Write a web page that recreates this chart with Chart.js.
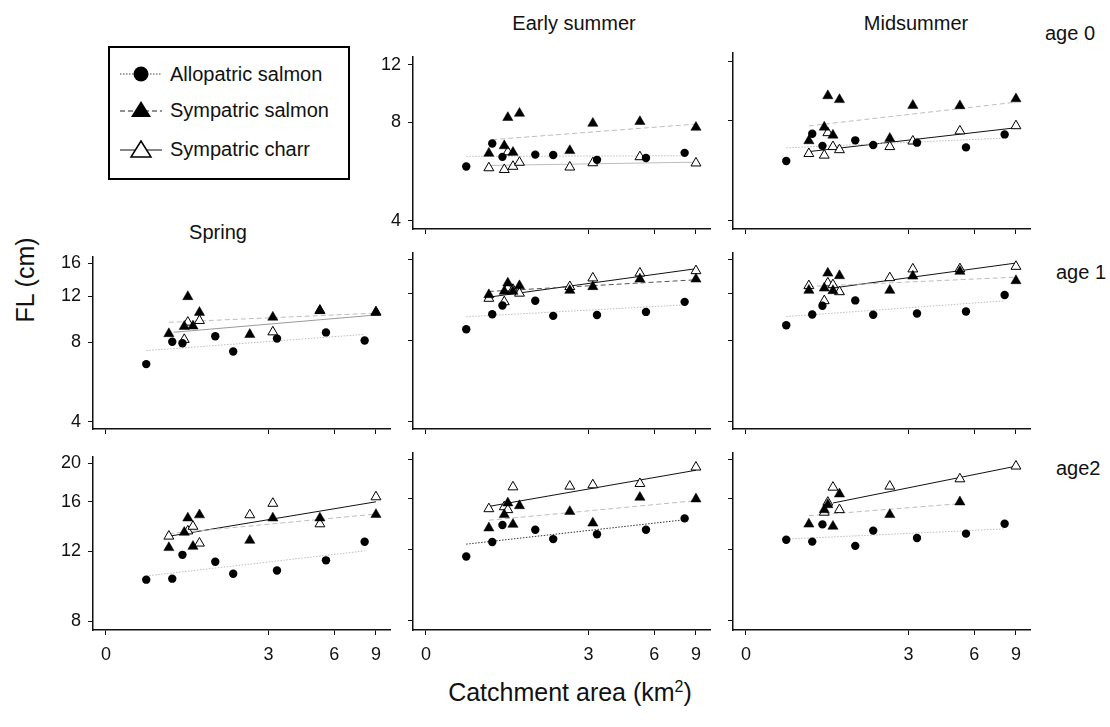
<!DOCTYPE html>
<html>
<head>
<meta charset="utf-8">
<script src="https://cdn.jsdelivr.net/npm/chart.js@4.4.1/dist/chart.umd.min.js"></script>
<style>
  body { margin: 0; background: #fff; font-family: 'Liberation Sans', Arial, sans-serif; color: #111; }
  #page { position: relative; width: 1110px; height: 727px; overflow: hidden; }
  canvas { position: absolute; }
  .lbl { position: absolute; white-space: nowrap; line-height: 1; font-size: 20px; transform: translate(-50%, -50%); }
  .side { position: absolute; white-space: nowrap; line-height: 1; font-size: 20px; transform: translateY(-50%); }
  #legend { position: absolute; left: 108px; top: 46px; width: 242px; height: 134px; border: 2px solid #000; box-sizing: border-box; }
  .item { position: absolute; left: 8px; height: 24px; display: flex; align-items: center; font-size: 20px; }
  .item svg { margin-right: 6px; }
</style>
</head>
<body>
<div id="page">
  <div class="lbl" style="left:574px; top:23px;">Early summer</div>
  <div class="lbl" style="left:916px; top:23px;">Midsummer</div>
  <div class="lbl" style="left:218px; top:232px;">Spring</div>
  <div class="side" style="left:1045px; top:33px;">age 0</div>
  <div class="side" style="left:1056px; top:272px;">age 1</div>
  <div class="side" style="left:1056px; top:468px;">age2</div>
  <div class="lbl" style="left:25px; top:280px; font-size:25px; transform:translate(-50%,-50%) rotate(-90deg);">FL (cm)</div>
  <div class="lbl" style="left:570px; top:692px; font-size:25px;">Catchment area (km<sup style="font-size:16px; vertical-align:9px;">2</sup>)</div>

  <div id="legend">
    <div class="item" style="top:14px;">
      <svg width="46" height="20"><line x1="2" y1="10" x2="44" y2="10" stroke="#444" stroke-width="1" stroke-dasharray="1.5,1.5"/><circle cx="23" cy="10" r="7.5" fill="#000"/></svg>Allopatric salmon
    </div>
    <div class="item" style="top:50px;">
      <svg width="46" height="20"><line x1="2" y1="11" x2="44" y2="11" stroke="#222" stroke-width="1" stroke-dasharray="5,3"/><polygon points="23,1 33,17 13,17" fill="#000"/></svg>Sympatric salmon
    </div>
    <div class="item" style="top:89px;">
      <svg width="46" height="20"><line x1="2" y1="11" x2="44" y2="11" stroke="#111" stroke-width="1"/><polygon points="23,2 33,18 13,18" fill="#fff" stroke="#000" stroke-width="1.5"/></svg>Sympatric charr
    </div>
  </div>
</div>

<script>
// catchment area (km2) of the allopatric and sympatric sites
const alloArea = [0.41, 0.76, 0.92, 1.54, 1.96, 3.30, 5.53, 8.08];
const sympArea = [0.71, 0.95, 1.01, 1.10, 1.22, 2.41, 3.15, 5.20, 9.00];
const xTickAreas = [0, 3, 6, 9];
const yTicksAge0 = [4, 8, 12];
const yTicksAge1 = [4, 8, 12, 16];
const yTicksAge2 = [8, 12, 16, 20];

// fork length (cm), early summer age 0
const es0Allo = [5.87, 6.90, 6.28, 6.38, 6.36, 6.15, 6.23, 6.46];
const es0Sal = [6.44, 6.79, 8.28, 6.48, 8.53, 6.56, 7.95, 8.05, 7.73];
const es0Charr = [5.81, 5.74, 6.50, 5.87, 6.04, 5.84, 6.02, 6.28, 6.01];
// midsummer age 0
const ms0Allo = [6.04, 7.28, 6.70, 6.96, 6.74, 6.85, 6.63, 7.25];
const ms0Sal = [6.94, 7.62, 9.46, 7.21, 9.21, 7.05, 8.85, 8.83, 9.26];
const ms0Charr = [6.35, 6.28, 7.33, 6.66, 6.52, 6.66, 6.92, 7.42, 7.69];
// spring age 1
const sp1Allo = [6.62, 8.05, 7.95, 8.45, 7.39, 8.28, 8.74, 8.14];
const sp1Sal = [8.64, 9.21, 11.95, 9.24, 10.41, 8.58, 9.98, 10.57, 10.41];
const sp1Charr = [null, 8.21, 9.55, null, 9.69, null, 8.77, 10.6, 10.45];
// early summer age 1
const es1Allo = [8.82, 10.03, 10.81, 11.25, 9.89, 9.96, 10.23, 11.15];
const es1Sal = [11.85, 12.2, 13.1, 12.2, 12.8, 12.3, 12.7, 13.55, 13.55];
const es1Charr = [11.48, 11.15, 12.54, 12.4, 12.0, 12.7, 13.67, 14.26, 14.55];
// midsummer age 1
const ms1Allo = [9.13, 10.0, 10.78, 11.29, 9.98, 10.09, 10.26, 11.82];
const ms1Sal = [12.3, 12.54, 14.26, 12.27, 13.95, 12.3, 13.9, 14.48, 13.36];
const ms1Charr = [12.8, 11.25, 13.1, 12.9, 12.15, 13.7, 14.77, 14.8, 15.1];
// spring age 2
const sp2Allo = [10.18, 10.24, 11.76, 11.3, 10.54, 10.74, 11.39, 12.69];
const sp2Sal = [12.26, 13.4, 14.56, 12.35, 14.83, 12.79, 14.56, 14.56, 14.86];
const sp2Charr = [13.1, null, 13.5, 13.87, 12.58, 14.83, 15.85, 14.07, 16.46];
// early summer age 2
const es2Allo = [11.54, 12.53, 13.8, 13.43, 12.74, 13.1, 13.43, 14.33];
const es2Sal = [13.57, 14.64, 15.64, 13.85, 15.4, 14.9, 13.95, 16.15, 16.0];
const es2Charr = [15.13, 15.3, 15.05, 17.13, null, 17.2, 17.33, 17.46, 19.17];
// midsummer age 2
const ms2Allo = [12.69, 12.56, 13.85, 12.26, 13.37, 12.82, 13.14, 13.9];
const ms2Sal = [13.87, 15.05, 15.49, 13.7, 16.46, 14.64, null, 15.73, null];
const ms2Charr = [null, 14.83, 15.7, 17.1, 15.05, 17.2, null, 17.93, 19.28];

// fitted lines: [area start, FL start, area end, FL end] for allo, sal, charr
const es0Fits = [[0.41, 6.30, 8.08, 6.33], [0.76, 7.09, 9.0, 7.91], [0.71, 5.91, 9.0, 6.05]];
const ms0Fits = [[0.41, 6.61, 8.08, 7.07], [0.71, 7.69, 9.0, 9.05], [0.71, 6.44, 9.0, 7.59]];
const sp1Fits = [[0.41, 7.45, 8.08, 8.59], [0.71, 9.55, 9.0, 10.35], [0.78, 8.75, 9.0, 10.18]];
const es1Fits = [[0.41, 9.81, 8.08, 10.87], [0.71, 12.19, 9.0, 13.47], [0.71, 11.61, 9.0, 14.81]];
const ms1Fits = [[0.41, 9.83, 8.08, 11.25], [0.71, 12.72, 9.0, 13.78], [1.08, 12.54, 9.0, 15.55]];
const sp2Fits = [[0.41, 10.4, 8.08, 12.03], [0.71, 13.3, 9.0, 14.9], [0.71, 13.1, 9.0, 16.0]];
const es2Fits = [[0.41, 12.38, 8.08, 14.22], [0.71, 14.18, 9.0, 15.85], [0.71, 15.34, 9.0, 18.84]];
const ms2Fits = [[0.41, 12.74, 8.08, 13.5], [0.71, 14.56, 5.2, 15.58], [1.10, 15.64, 9.0, 19.28]];

const FONT = "'Liberation Sans', Arial, sans-serif";
Chart.defaults.font.family = FONT;

const colLeft = [93, 413, 733];
const rowTop = [53, 253, 453];
const rowH = [176, 176, 177];
const rowRange = [[3.78, 12.7], [3.75, 16.95], [7.6, 20.78]];
const rowTicks = [yTicksAge0, yTicksAge1, yTicksAge2];
const plotW = 297;
const padL = 50, padT = 14, padR = 14, padB = 40;

const LIGHT = '#bdbdbd', DARK = '#111';

const panels = [
  { row: 0, col: 1, allo: es0Allo, sal: es0Sal, charr: es0Charr, fits: es0Fits, colors: [LIGHT, LIGHT, LIGHT], yLabels: true },
  { row: 0, col: 2, allo: ms0Allo, sal: ms0Sal, charr: ms0Charr, fits: ms0Fits, colors: [LIGHT, LIGHT, DARK] },
  { row: 1, col: 0, allo: sp1Allo, sal: sp1Sal, charr: sp1Charr, fits: sp1Fits, colors: [LIGHT, LIGHT, '#9a9a9a'], yLabels: true },
  { row: 1, col: 1, allo: es1Allo, sal: es1Sal, charr: es1Charr, fits: es1Fits, colors: [LIGHT, '#555', DARK] },
  { row: 1, col: 2, allo: ms1Allo, sal: ms1Sal, charr: ms1Charr, fits: ms1Fits, colors: [LIGHT, LIGHT, DARK] },
  { row: 2, col: 0, allo: sp2Allo, sal: sp2Sal, charr: sp2Charr, fits: sp2Fits, colors: [LIGHT, LIGHT, DARK], yLabels: true },
  { row: 2, col: 1, allo: es2Allo, sal: es2Sal, charr: es2Charr, fits: es2Fits, colors: ['#333', LIGHT, DARK] },
  { row: 2, col: 2, allo: ms2Allo, sal: ms2Sal, charr: ms2Charr, fits: ms2Fits, colors: [LIGHT, LIGHT, DARK] }
];

const xv = a => Math.log10(a + 1);

function pts(xs, ys) {
  return xs.map((a, i) => ({ x: xv(a), y: ys[i] })).filter(p => p.y != null);
}

function fitPts(f) {
  return [{ x: xv(f[0]), y: f[1] }, { x: xv(f[2]), y: f[3] }];
}

function fitSet(f, color, dash, order) {
  return {
    type: 'line', data: fitPts(f), borderColor: color, borderWidth: 1,
    borderDash: dash, pointRadius: 0, fill: false, order, clip: false
  };
}

function makePanel(p) {
  const canvas = document.createElement('canvas');
  const w = padL + plotW + padR;
  const h = padT + rowH[p.row] + padB;
  canvas.width = w;
  canvas.height = h;
  canvas.style.left = (colLeft[p.col] - padL) + 'px';
  canvas.style.top = (rowTop[p.row] - padT) + 'px';
  canvas.style.width = w + 'px';
  canvas.style.height = h + 'px';
  document.getElementById('page').insertBefore(canvas, document.getElementById('legend'));

  const yTicks = rowTicks[p.row];
  const showX = p.row === 2;

  new Chart(canvas, {
    type: 'scatter',
    data: {
      datasets: [
        { data: pts(sympArea, p.sal), pointStyle: 'triangle', pointRadius: 5.9, backgroundColor: '#000', borderColor: '#000', borderWidth: 0.5, order: 1, clip: false },
        { data: pts(alloArea, p.allo), pointStyle: 'circle', pointRadius: 4.2, backgroundColor: '#000', borderColor: '#000', borderWidth: 0, order: 2, clip: false },
        { data: pts(sympArea, p.charr), pointStyle: 'triangle', pointRadius: 5.7, backgroundColor: '#fff', borderColor: '#000', borderWidth: 1, order: 3, clip: false },
        fitSet(p.fits[0], p.colors[0], [1.5, 1.5], 4),
        fitSet(p.fits[1], p.colors[1], [5, 3], 5),
        fitSet(p.fits[2], p.colors[2], [], 6)
      ]
    },
    options: {
      responsive: false,
      animation: false,
      events: [],
      layout: { padding: { left: 0, top: padT, right: padR, bottom: 0 } },
      plugins: { legend: { display: false }, tooltip: { enabled: false } },
      scales: {
        x: {
          type: 'linear', min: -0.048, max: 1.052,
          afterBuildTicks: s => { s.ticks = xTickAreas.map(a => ({ value: xv(a) })); },
          afterFit: s => { s.height = padB; },
          ticks: {
            display: showX, autoSkip: false, maxRotation: 0, padding: 9,
            color: '#111', font: { size: 18, family: FONT },
            callback: (v, i) => String(xTickAreas[i])
          },
          grid: { display: true, drawOnChartArea: false, drawTicks: true, tickLength: 5, color: '#111', lineWidth: 1 },
          border: { display: true, color: '#111', width: 1.5 }
        },
        y: {
          type: 'logarithmic', min: rowRange[p.row][0], max: rowRange[p.row][1],
          afterBuildTicks: s => { s.ticks = yTicks.map(v => ({ value: v })); },
          afterFit: s => { s.width = padL; },
          ticks: {
            display: !!p.yLabels, autoSkip: false, padding: 7,
            color: '#111', font: { size: 18, family: FONT },
            callback: v => String(v)
          },
          grid: { display: true, drawOnChartArea: false, drawTicks: true, tickLength: 5, color: '#111', lineWidth: 1 },
          border: { display: true, color: '#111', width: 1.5 }
        }
      }
    }
  });
}

panels.forEach(makePanel);
</script>
</body>
</html>
